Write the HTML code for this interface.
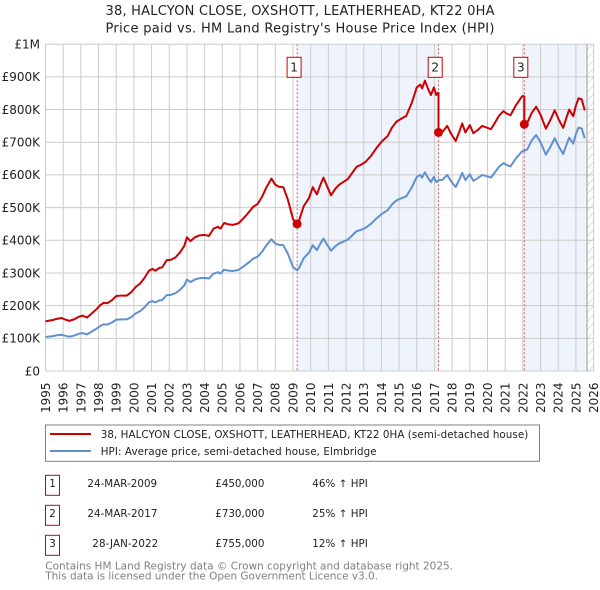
<!DOCTYPE html>
<html><head><meta charset="utf-8"><style>
html,body{margin:0;padding:0;background:#fff;}
svg{display:block;font-family:"DejaVu Sans","Liberation Sans",sans-serif;}
</style></head><body>
<svg width="600" height="590" viewBox="0 0 600 590" xmlns="http://www.w3.org/2000/svg">
<defs>
<pattern id="hatch" width="6" height="6" patternUnits="userSpaceOnUse" patternTransform="rotate(45)">
<line x1="0" y1="0" x2="0" y2="6" stroke="#bbbbbb" stroke-width="1"/>
</pattern>
</defs>
<rect width="600" height="590" fill="#fff"/>
<!-- title -->
<text x="300" y="15" font-size="13" text-anchor="middle" fill="#222" textLength="389">38, HALCYON CLOSE, OXSHOTT, LEATHERHEAD, KT22 0HA</text>
<text x="300" y="32.5" font-size="13" text-anchor="middle" fill="#222" textLength="389">Price paid vs. HM Land Registry's House Price Index (HPI)</text>

<!-- shading -->
<rect x="297.1" y="44.2" width="141.4" height="326.8" fill="#eef3fc"/>
<rect x="524.3" y="44.2" width="62.7" height="326.8" fill="#eef3fc"/>
<rect x="587" y="44.2" width="6.6" height="326.8" fill="url(#hatch)"/>

<!-- grid -->
<path fill="none" stroke="#cccccc" stroke-width="1" d="M45.5 44.2V371M63.18 44.2V371M80.86 44.2V371M98.54 44.2V371M116.22 44.2V371M133.9 44.2V371M151.58 44.2V371M169.26 44.2V371M186.94 44.2V371M204.62 44.2V371M222.3 44.2V371M239.98 44.2V371M257.66 44.2V371M275.34 44.2V371M293.02 44.2V371M310.7 44.2V371M328.38 44.2V371M346.06 44.2V371M363.74 44.2V371M381.42 44.2V371M399.1 44.2V371M416.78 44.2V371M434.46 44.2V371M452.14 44.2V371M469.82 44.2V371M487.5 44.2V371M505.18 44.2V371M522.86 44.2V371M540.54 44.2V371M558.22 44.2V371M575.9 44.2V371M593.58 44.2V371"/>
<path fill="none" stroke="#cccccc" stroke-width="1" d="M45.5 371H593.6M45.5 338.32H593.6M45.5 305.64H593.6M45.5 272.96H593.6M45.5 240.28H593.6M45.5 207.6H593.6M45.5 174.92H593.6M45.5 142.24H593.6M45.5 109.56H593.6M45.5 76.88H593.6M45.5 44.2H593.6"/>
<line x1="587" y1="44.2" x2="587" y2="371" stroke="#999" stroke-width="1"/>

<!-- y tick labels -->
<g font-size="12" fill="#222" text-anchor="end">
<text x="40" y="375.3">£0</text>
<text x="40" y="342.6">£100K</text>
<text x="40" y="309.9">£200K</text>
<text x="40" y="277.3">£300K</text>
<text x="40" y="244.6">£400K</text>
<text x="40" y="211.9">£500K</text>
<text x="40" y="179.2">£600K</text>
<text x="40" y="146.5">£700K</text>
<text x="40" y="113.9">£800K</text>
<text x="40" y="81.2">£900K</text>
<text x="40" y="48.5">£1M</text>
</g>

<!-- x tick labels -->
<g font-size="12" fill="#222" text-anchor="end">
<text transform="translate(49.9 382.5) rotate(-90)">1995</text>
<text transform="translate(67.58 382.5) rotate(-90)">1996</text>
<text transform="translate(85.26 382.5) rotate(-90)">1997</text>
<text transform="translate(102.94 382.5) rotate(-90)">1998</text>
<text transform="translate(120.62 382.5) rotate(-90)">1999</text>
<text transform="translate(138.3 382.5) rotate(-90)">2000</text>
<text transform="translate(155.98 382.5) rotate(-90)">2001</text>
<text transform="translate(173.66 382.5) rotate(-90)">2002</text>
<text transform="translate(191.34 382.5) rotate(-90)">2003</text>
<text transform="translate(209.02 382.5) rotate(-90)">2004</text>
<text transform="translate(226.7 382.5) rotate(-90)">2005</text>
<text transform="translate(244.38 382.5) rotate(-90)">2006</text>
<text transform="translate(262.06 382.5) rotate(-90)">2007</text>
<text transform="translate(279.74 382.5) rotate(-90)">2008</text>
<text transform="translate(297.42 382.5) rotate(-90)">2009</text>
<text transform="translate(315.1 382.5) rotate(-90)">2010</text>
<text transform="translate(332.78 382.5) rotate(-90)">2011</text>
<text transform="translate(350.46 382.5) rotate(-90)">2012</text>
<text transform="translate(368.14 382.5) rotate(-90)">2013</text>
<text transform="translate(385.82 382.5) rotate(-90)">2014</text>
<text transform="translate(403.5 382.5) rotate(-90)">2015</text>
<text transform="translate(421.18 382.5) rotate(-90)">2016</text>
<text transform="translate(438.86 382.5) rotate(-90)">2017</text>
<text transform="translate(456.54 382.5) rotate(-90)">2018</text>
<text transform="translate(474.22 382.5) rotate(-90)">2019</text>
<text transform="translate(491.9 382.5) rotate(-90)">2020</text>
<text transform="translate(509.58 382.5) rotate(-90)">2021</text>
<text transform="translate(527.26 382.5) rotate(-90)">2022</text>
<text transform="translate(544.94 382.5) rotate(-90)">2023</text>
<text transform="translate(562.62 382.5) rotate(-90)">2024</text>
<text transform="translate(580.3 382.5) rotate(-90)">2025</text>
<text transform="translate(597.98 382.5) rotate(-90)">2026</text>
</g>

<!-- sale vertical lines -->
<g stroke="#e06060" stroke-width="1" stroke-dasharray="2,2">
<line x1="297.1" y1="44.2" x2="297.1" y2="371"/>
<line x1="438.5" y1="44.2" x2="438.5" y2="371"/>
<line x1="524.3" y1="44.2" x2="524.3" y2="371"/>
</g>

<!-- HPI (blue) -->
<polyline transform="matrix(17.68 0 0 -0.3268 45.5 371)" vector-effect="non-scaling-stroke" fill="none" stroke="#6090d0" stroke-width="2" stroke-linejoin="round" points="0,104 0.15,105 0.3,106 0.45,107 0.6,109 0.75,110 0.9,111 1.1,108 1.35,105 1.6,108 1.9,114 2.1,116 2.35,112 2.6,120 2.9,130 3.1,138 3.3,143 3.5,142 3.75,148 4,157 4.3,158 4.6,158 4.85,165 5.1,176 5.35,183 5.6,195 5.85,210 6.05,214 6.2,210 6.45,216 6.6,217 6.85,232 7.1,233 7.35,238 7.6,248 7.85,262 8,280 8.2,272 8.45,280 8.7,284 9,285 9.25,283 9.5,298 9.75,302 9.9,298 10.1,310 10.35,307 10.6,306 10.9,309 11.1,316 11.4,328 11.75,344 12,350 12.25,365 12.5,385 12.78,403 13,390 13.2,386 13.45,385 13.7,360 14,318 14.23,308 14.35,316 14.6,345 14.9,362 15.12,385 15.35,370 15.55,390 15.72,405 15.95,385 16.15,368 16.4,382 16.6,390 16.85,396 17.1,402 17.35,415 17.6,428 17.85,432 18.1,438 18.4,450 18.7,466 19,480 19.35,492 19.6,510 19.85,522 20.1,528 20.4,534 20.7,560 21,594 21.2,600 21.3,592 21.46,608 21.65,590 21.8,578 21.97,594 22.1,578 22.23,584 22.45,585 22.72,600 22.95,580 23.2,563 23.4,585 23.57,606 23.75,584 24,602 24.2,582 24.45,590 24.7,600 24.95,596 25.2,592 25.45,610 25.65,625 25.9,636 26.1,630 26.3,626 26.6,650 26.95,672 27.08,674 27.25,678 27.5,705 27.75,722 28,700 28.3,662 28.55,685 28.8,712 29.05,685 29.28,664 29.45,690 29.62,714 29.85,696 30,725 30.15,745 30.33,742 30.5,712"/>

<!-- Property (red) -->
<polyline transform="matrix(17.68 0 0 -0.47745 45.5 371)" vector-effect="non-scaling-stroke" fill="none" stroke="#cc0000" stroke-width="2" stroke-linejoin="round" points="0,104 0.15,105 0.3,106 0.45,107 0.6,109 0.75,110 0.9,111 1.1,108 1.35,105 1.6,108 1.9,114 2.1,116 2.35,112 2.6,120 2.9,130 3.1,138 3.3,143 3.5,142 3.75,148 4,157 4.3,158 4.6,158 4.85,165 5.1,176 5.35,183 5.6,195 5.85,210 6.05,214 6.2,210 6.45,216 6.6,217 6.85,232 7.1,233 7.35,238 7.6,248 7.85,262 8,280 8.2,272 8.45,280 8.7,284 9,285 9.25,283 9.5,298 9.75,302 9.9,298 10.1,310 10.35,307 10.6,306 10.9,309 11.1,316 11.4,328 11.75,344 12,350 12.25,365 12.5,385 12.78,403 13,390 13.2,386 13.45,385 13.7,360 14,318 14.23,308 14.35,316 14.6,345 14.9,362 15.12,385 15.35,370 15.55,390 15.72,405 15.95,385 16.15,368 16.4,382 16.6,390 16.85,396 17.1,402 17.35,415 17.6,428 17.85,432 18.1,438 18.4,450 18.7,466 19,480 19.35,492 19.6,510 19.85,522 20.1,528 20.4,534 20.7,560 21,594 21.2,600 21.3,592 21.46,608 21.65,590 21.8,578 21.97,594 22.1,578 22.23,584"/>
<polyline transform="matrix(17.68 0 0 -0.4085 45.5 371)" vector-effect="non-scaling-stroke" fill="none" stroke="#cc0000" stroke-width="2" stroke-linejoin="round" points="22.23,584 22.45,585 22.72,600 22.95,580 23.2,563 23.4,585 23.57,606 23.75,584 24,602 24.2,582 24.45,590 24.7,600 24.95,596 25.2,592 25.45,610 25.65,625 25.9,636 26.1,630 26.3,626 26.6,650 26.95,672 27.08,674"/>
<polyline transform="matrix(17.68 0 0 -0.36608 45.5 371)" vector-effect="non-scaling-stroke" fill="none" stroke="#cc0000" stroke-width="2" stroke-linejoin="round" points="27.08,674 27.25,678 27.5,705 27.75,722 28,700 28.3,662 28.55,685 28.8,712 29.05,685 29.28,664 29.45,690 29.62,714 29.85,696 30,725 30.15,745 30.33,742 30.5,712"/>
<line x1="438.5" y1="92.2" x2="438.5" y2="132.4" stroke="#cc0000" stroke-width="2"/>
<line x1="524.3" y1="95.7" x2="524.3" y2="124.3" stroke="#cc0000" stroke-width="2"/>

<!-- sale markers -->
<g fill="#cc0000">
<circle cx="297.1" cy="223.9" r="4.5"/>
<circle cx="438.5" cy="132.4" r="4.5"/>
<circle cx="524.3" cy="124.3" r="4.5"/>
</g>

<!-- number boxes on chart -->
<g fill="#fff" stroke="#cc0000" stroke-width="1">
<rect x="287.1" y="57.3" width="14" height="20"/>
<rect x="428.2" y="57.3" width="14" height="20"/>
<rect x="513.8" y="57.3" width="14" height="20"/>
</g>
<g font-size="12" fill="#222" text-anchor="middle">
<text x="294.1" y="71.5">1</text>
<text x="435.2" y="71.5">2</text>
<text x="520.8" y="71.5">3</text>
</g>

<!-- legend -->
<rect x="45.5" y="425" width="494" height="36.3" fill="#fff" stroke="#808080" stroke-width="1"/>
<line x1="50" y1="434" x2="91" y2="434" stroke="#cc0000" stroke-width="2"/>
<line x1="50" y1="451" x2="91" y2="451" stroke="#6090d0" stroke-width="2"/>
<text x="100.7" y="438" font-size="10.3" fill="#222" textLength="427.6">38, HALCYON CLOSE, OXSHOTT, LEATHERHEAD, KT22 0HA (semi-detached house)</text>
<text x="100.7" y="455" font-size="10.3" fill="#222" textLength="275.9">HPI: Average price, semi-detached house, Elmbridge</text>

<!-- table -->
<g fill="#fff" stroke="#cc0000" stroke-width="1">
<rect x="45.5" y="475.3" width="14" height="20"/>
<rect x="45.5" y="505.3" width="14" height="20"/>
<rect x="45.5" y="535.3" width="14" height="20"/>
</g>
<g font-size="10.3" fill="#222">
<text x="52.5" y="487" text-anchor="middle">1</text>
<text x="52.5" y="517" text-anchor="middle">2</text>
<text x="52.5" y="547" text-anchor="middle">3</text>
<text x="87.4" y="487" textLength="69.7">24-MAR-2009</text>
<text x="87.4" y="517" textLength="70">24-MAR-2017</text>
<text x="92.3" y="547" textLength="65.9">28-JAN-2022</text>
<text x="215.3" y="487" textLength="49.1">£450,000</text>
<text x="215.3" y="517" textLength="49.1">£730,000</text>
<text x="215.3" y="547" textLength="49.1">£755,000</text>
<text x="312.3" y="487" textLength="55.5">46% ↑ HPI</text>
<text x="312.3" y="517" textLength="55.5">25% ↑ HPI</text>
<text x="312.3" y="547" textLength="55.5">12% ↑ HPI</text>
</g>

<!-- footer -->
<text x="45.3" y="569.7" font-size="10.5" fill="#808080" textLength="407.7">Contains HM Land Registry data © Crown copyright and database right 2025.</text>
<text x="45.3" y="579.3" font-size="10.5" fill="#808080" textLength="332.7">This data is licensed under the Open Government Licence v3.0.</text>
</svg>
</body></html>
